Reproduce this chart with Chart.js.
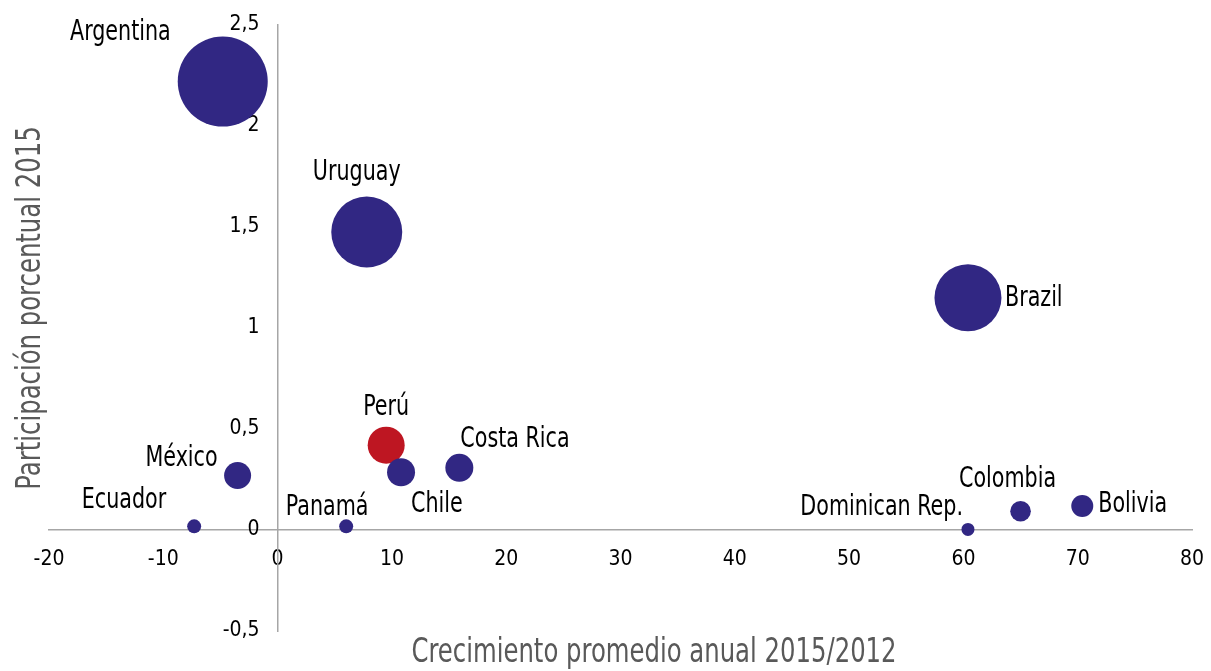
<!DOCTYPE html>
<html>
<head>
<meta charset="utf-8">
<script src="https://cdn.jsdelivr.net/npm/chart.js@4"></script>
<style>
    html, body { margin: 0; padding: 0; background: #fff; }
    #wrap { width: 1211px; height: 671px; }
</style>
</head>
<body>
<div id="wrap"><canvas id="myChart-bubbles"></canvas></div>
<script>
const countries = ['Argentina', 'Uruguay', 'Brazil', 'Perú', 'Chile', 'Costa Rica', 'México', 'Ecuador', 'Panamá', 'Dominican Rep.', 'Colombia', 'Bolivia'];
const growth = [-4.8, 7.8, 60.4, 9.5, 10.8, 15.9, -3.5, -7.3, 6.0, 60.4, 65.0, 70.4];
const share = [2.22, 1.475, 1.15, 0.42, 0.286, 0.308, 0.27, 0.018, 0.018, 0.003, 0.093, 0.119];
const bubbleRadius = [45, 35.5, 33.5, 18.5, 14, 14, 13.5, 7, 7, 6.5, 10.3, 11];
const xTickValues = [-20, -10, 0, 10, 20, 30, 40, 50, 60, 70, 80];
const yTickValues = [-0.5, 0, 0.5, 1, 1.5, 2, 2.5];
const highlighted = 'Perú';

const FONT = "'DejaVu Sans Condensed', 'Liberation Sans', sans-serif";
const NAVY = '#312783';
const RED = '#be1622';
const SQUEEZE = 0.82; // the original uses a condensed face, so text is narrowed a bit

// where each label sits relative to its bubble
const labelPlacement = {
    'Argentina':      { dx: -52, dy: -42, align: 'right' },
    'Uruguay':        { dx: -10, dy: -52, align: 'center' },
    'Brazil':         { dx: 37,  dy: 8,   align: 'left' },
    'Perú':           { dx: 0,   dy: -30, align: 'center' },
    'Chile':          { dx: 10,  dy: 40,  align: 'left' },
    'Costa Rica':     { dx: 1,   dy: -21, align: 'left' },
    'México':         { dx: -20, dy: -9,  align: 'right' },
    'Ecuador':        { dx: -28, dy: -18, align: 'right' },
    'Panamá':         { dx: -19, dy: -11, align: 'center' },
    'Dominican Rep.': { dx: -5,  dy: -14, align: 'right' },
    'Colombia':       { dx: -13, dy: -24, align: 'center' },
    'Bolivia':        { dx: 16,  dy: 6,   align: 'left' }
};

const points = countries.map((c, i) => ({ x: growth[i], y: share[i], r: bubbleRadius[i] }));
const colors = countries.map(c => c === highlighted ? RED : NAVY);

const drawSqueezed = (ctx, text, x, y, align, angle) => {
    ctx.save();
    ctx.translate(x, y);
    if (angle) ctx.rotate(angle);
    ctx.scale(SQUEEZE, 1);
    ctx.textAlign = align;
    ctx.fillText(text, 0, 0);
    ctx.restore();
};

const bubbleLabels = {
    id: 'bubbleLabels',
    afterDatasetsDraw(chart) {
        const ctx = chart.ctx;
        const meta = chart.getDatasetMeta(0);
        ctx.save();
        ctx.font = `28px ${FONT}`;
        ctx.fillStyle = '#000';
        ctx.textBaseline = 'alphabetic';
        meta.data.forEach((el, i) => {
            const p = labelPlacement[countries[i]];
            drawSqueezed(ctx, countries[i], el.x + p.dx, el.y + p.dy, p.align, 0);
        });
        ctx.restore();
    }
};

const axisTitles = {
    id: 'axisTitles',
    afterDraw(chart) {
        const ctx = chart.ctx;
        ctx.save();
        ctx.font = `33px ${FONT}`;
        ctx.fillStyle = '#595959';
        ctx.textBaseline = 'alphabetic';
        drawSqueezed(ctx, 'Crecimiento promedio anual 2015/2012', 654, 662, 'center', 0);
        drawSqueezed(ctx, 'Participación porcentual 2015', 40, 308, 'center', -Math.PI / 2);
        ctx.restore();
    }
};

const config = {
    type: 'bubble',
    data: {
        datasets: [{
            label: 'Países',
            data: points,
            backgroundColor: colors,
            borderWidth: 0,
            hoverBorderWidth: 0,
            hoverRadius: 0
        }]
    },
    options: {
        responsive: true,
        maintainAspectRatio: false,
        animation: false,
        events: [],
        // big bubbles would otherwise pad every side of the chart area
        layout: { autoPadding: false, padding: { left: 49, right: 19, top: 25, bottom: 40 } },
        plugins: {
            legend: { display: false },
            tooltip: { enabled: false }
        },
        scales: {
            x: {
                type: 'linear',
                min: -20,
                max: 80,
                position: { y: 0 },
                afterBuildTicks: scale => { scale.ticks = xTickValues.map(v => ({ value: v })); },
                grid: { display: false, drawTicks: true, tickLength: 17 },
                border: { display: true, color: '#a6a6a6', width: 1.5 },
                ticks: {
                    color: '#000',
                    padding: 0,
                    maxRotation: 0,
                    font: { family: FONT, size: 21 },
                    callback: v => String(v)
                }
            },
            y: {
                type: 'linear',
                min: -0.5,
                max: 2.5,
                position: { x: 0 },
                afterBuildTicks: scale => { scale.ticks = yTickValues.map(v => ({ value: v })); },
                grid: { display: false, drawTicks: false },
                border: { display: true, color: '#a6a6a6', width: 1.5 },
                ticks: {
                    color: '#000',
                    font: { family: FONT, size: 21 },
                    // labels sit right against a centred axis, so pad them with spaces
                    callback: v => String(v).replace('.', ',') + '   '
                }
            }
        }
    },
    plugins: [bubbleLabels, axisTitles]
};

document.addEventListener('DOMContentLoaded', () => {
    const ctx = document.getElementById('myChart-bubbles').getContext('2d');
    new Chart(ctx, config);
});
</script>
</body>
</html>
